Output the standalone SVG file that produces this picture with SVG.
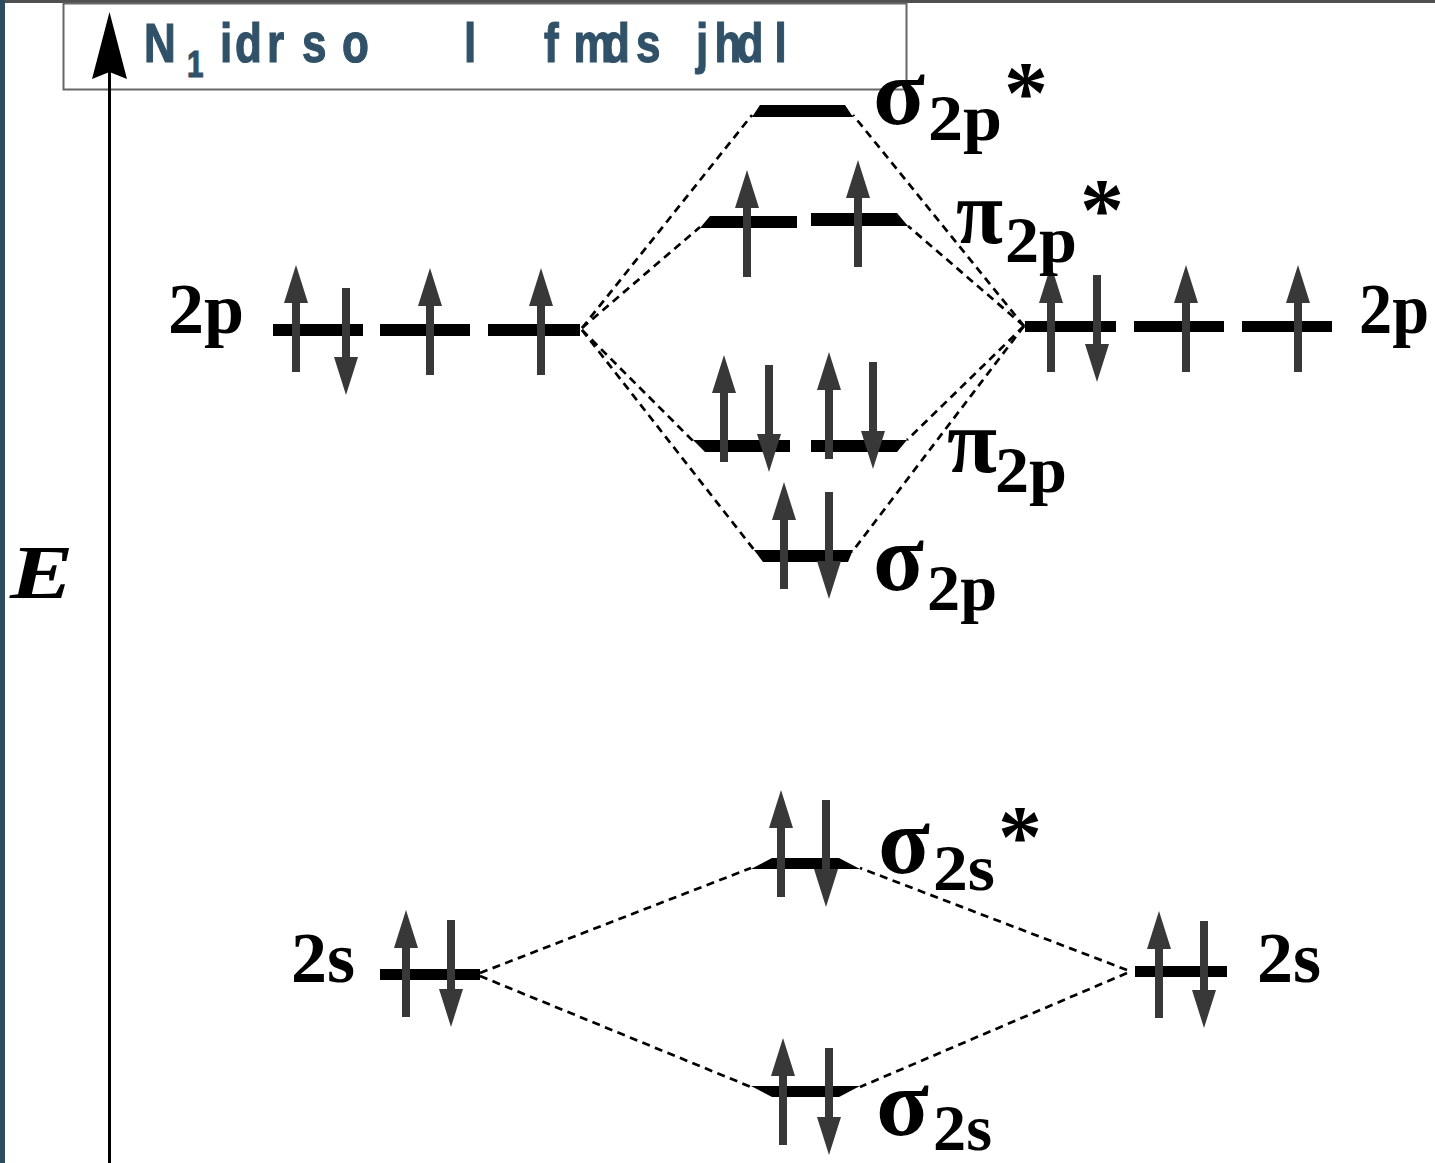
<svg xmlns="http://www.w3.org/2000/svg" xmlns:xlink="http://www.w3.org/1999/xlink" width="1435" height="1163" viewBox="0 0 1435 1163">
<style>
.bar{fill:#000}
.arr{fill:#383838}
.dash{stroke:#000;stroke-width:2.7;stroke-dasharray:8 5.5;fill:none}
.lbl{font-family:"Liberation Serif","Times New Roman",serif;font-weight:bold;fill:#000}
.big{font-size:96px}
.pi{font-size:92px}
.sub{font-size:66px}
.ast{font-size:88px}
.orb{font-size:72px}
.ttl{font-family:"Liberation Sans",Arial,sans-serif;font-weight:bold;fill:#305168;stroke:#305168;stroke-width:1.2}
</style>
<defs>
<path id="up" d="M0,0 L12,38 L4,38 L4,107 L-4,107 L-4,38 L-12,38 Z"/>
<path id="dn" d="M0,107 L12,69 L4,69 L4,0 L-4,0 L-4,69 L-12,69 Z"/>
</defs>
<rect x="0" y="0" width="1435" height="1163" fill="#fff"/>
<rect x="0" y="0" width="1435" height="3" fill="#505050"/>
<rect x="0" y="0" width="5" height="1163" fill="#2d4c61"/>

<g id="title">
<rect x="63.5" y="3.5" width="843" height="86" fill="#fff" stroke="#666" stroke-width="2"/>
<text class="ttl" transform="scale(0.8,1)" font-size="55">
<tspan x="180" y="62">N</tspan><tspan x="233.75" y="77" font-size="37">1</tspan><tspan x="275" y="62">i</tspan><tspan x="293.75" y="62">d</tspan><tspan x="333.75" y="62">r</tspan><tspan x="377.5" y="62">s</tspan><tspan x="427.5" y="62">o</tspan><tspan x="580" y="62">l</tspan><tspan x="680" y="62">f</tspan><tspan x="717" y="62" letter-spacing="-12">md</tspan><tspan x="795" y="62">s</tspan><tspan x="870" y="62">j</tspan><tspan x="893" y="62" letter-spacing="-6">hd</tspan><tspan x="968" y="62">l</tspan>
</text>
</g>

<g id="axis">
<line x1="109.5" y1="70" x2="109.5" y2="1163" stroke="#000" stroke-width="3"/>
<path d="M109.5,12 L127,79 L109.5,72 L92,79 Z" fill="#000"/>
<text transform="translate(10,598) scale(1.25,1)" x="0" y="0" font-family="Liberation Serif,serif" font-weight="bold" font-style="italic" font-size="76">E</text>
</g>

<g id="connectors">
<line class="dash" x1="582" y1="328" x2="752" y2="115"/>
<line class="dash" x1="582" y1="328" x2="700" y2="227"/>
<line class="dash" x1="582" y1="330" x2="693" y2="441"/>
<line class="dash" x1="582" y1="330" x2="755" y2="551"/>
<line class="dash" x1="1024" y1="326" x2="853" y2="115"/>
<line class="dash" x1="1024" y1="326" x2="908" y2="226"/>
<line class="dash" x1="1024" y1="326" x2="907" y2="440"/>
<line class="dash" x1="1024" y1="326" x2="852" y2="552"/>
<line class="dash" x1="480" y1="973" x2="751" y2="868"/>
<line class="dash" x1="480" y1="976" x2="751" y2="1087"/>
<line class="dash" x1="1127" y1="970" x2="860" y2="868"/>
<line class="dash" x1="1127" y1="973" x2="860" y2="1087"/>
</g>

<g id="atom-left-2p">
<rect class="bar" x="273" y="324" width="90" height="12"/>
<rect class="bar" x="380" y="324" width="90" height="12"/>
<rect class="bar" x="488" y="324" width="92" height="12"/>
<use href="#up" class="arr" x="296" y="265"/>
<use href="#dn" class="arr" x="346" y="288"/>
<use href="#up" class="arr" x="430" y="268"/>
<use href="#up" class="arr" x="541" y="268"/>
<text class="lbl orb" x="168" y="333">2p</text>
</g>

<g id="atom-right-2p">
<rect class="bar" x="1025" y="321" width="91" height="11"/>
<rect class="bar" x="1134" y="321" width="90" height="11"/>
<rect class="bar" x="1242" y="321" width="90" height="11"/>
<use href="#up" class="arr" x="1051" y="265"/>
<use href="#dn" class="arr" x="1097" y="275"/>
<use href="#up" class="arr" x="1186" y="265"/>
<use href="#up" class="arr" x="1298" y="265"/>
<text class="lbl orb" x="1359" y="333" textLength="70" lengthAdjust="spacingAndGlyphs">2p</text>
</g>

<g id="sigma-2p-star">
<polygon class="bar" points="760,105 845,105 853,117 752,117"/>
<text class="lbl"><tspan class="big" x="873" y="124" textLength="52" lengthAdjust="spacingAndGlyphs">σ</tspan><tspan class="sub" x="928" y="140" textLength="74" lengthAdjust="spacingAndGlyphs">2p</tspan><tspan class="ast" x="1004" y="122">*</tspan></text>
</g>

<g id="pi-2p-star">
<polygon class="bar" points="710,216 797,216 797,228 700,228"/>
<polygon class="bar" points="811,213 897,213 908,226 811,226"/>
<use href="#up" class="arr" x="747" y="170"/>
<use href="#up" class="arr" x="858" y="160"/>
<text class="lbl"><tspan class="pi" x="956" y="243" textLength="47" lengthAdjust="spacingAndGlyphs">π</tspan><tspan class="sub" x="1005" y="262" textLength="72" lengthAdjust="spacingAndGlyphs">2p</tspan><tspan class="ast" x="1080" y="239">*</tspan></text>
</g>

<g id="pi-2p">
<polygon class="bar" points="693,440 790,440 790,452 705,452"/>
<polygon class="bar" points="811,440 907,440 897,452 811,452"/>
<use href="#up" class="arr" x="724" y="355"/>
<use href="#dn" class="arr" x="769" y="365"/>
<use href="#up" class="arr" x="829" y="352"/>
<use href="#dn" class="arr" x="873" y="362"/>
<text class="lbl"><tspan class="pi" x="947" y="472" textLength="50" lengthAdjust="spacingAndGlyphs">π</tspan><tspan class="sub" x="995" y="492" textLength="72" lengthAdjust="spacingAndGlyphs">2p</tspan></text>
</g>

<g id="sigma-2p">
<polygon class="bar" points="754,550 853,550 848,562 763,562"/>
<use href="#up" class="arr" x="784" y="482"/>
<use href="#dn" class="arr" x="829" y="492"/>
<text class="lbl"><tspan class="big" x="873" y="590" textLength="51" lengthAdjust="spacingAndGlyphs">σ</tspan><tspan class="sub" x="927" y="610" textLength="70" lengthAdjust="spacingAndGlyphs">2p</tspan></text>
</g>

<g id="atom-left-2s">
<rect class="bar" x="380" y="969" width="100" height="11"/>
<use href="#up" class="arr" x="406" y="910"/>
<use href="#dn" class="arr" x="451" y="920"/>
<text class="lbl orb" x="291" y="982">2s</text>
</g>

<g id="atom-right-2s">
<rect class="bar" x="1135" y="966" width="92" height="11"/>
<use href="#up" class="arr" x="1159" y="911"/>
<use href="#dn" class="arr" x="1204" y="921"/>
<text class="lbl orb" x="1257" y="982">2s</text>
</g>

<g id="sigma-2s-star">
<polygon class="bar" points="772,858 839,858 860,869 751,869"/>
<use href="#up" class="arr" x="781" y="790"/>
<use href="#dn" class="arr" x="826" y="800"/>
<text class="lbl"><tspan class="big" x="878" y="873" textLength="52" lengthAdjust="spacingAndGlyphs">σ</tspan><tspan class="sub" x="933" y="890" textLength="62" lengthAdjust="spacingAndGlyphs">2s</tspan><tspan class="ast" x="998" y="866">*</tspan></text>
</g>

<g id="sigma-2s">
<polygon class="bar" points="751,1086 860,1086 839,1097 772,1097"/>
<use href="#up" class="arr" x="783" y="1038"/>
<use href="#dn" class="arr" x="829" y="1048"/>
<text class="lbl"><tspan class="big" x="876" y="1135" textLength="53" lengthAdjust="spacingAndGlyphs">σ</tspan><tspan class="sub" x="933" y="1150" textLength="59" lengthAdjust="spacingAndGlyphs">2s</tspan></text>
</g>
</svg>
